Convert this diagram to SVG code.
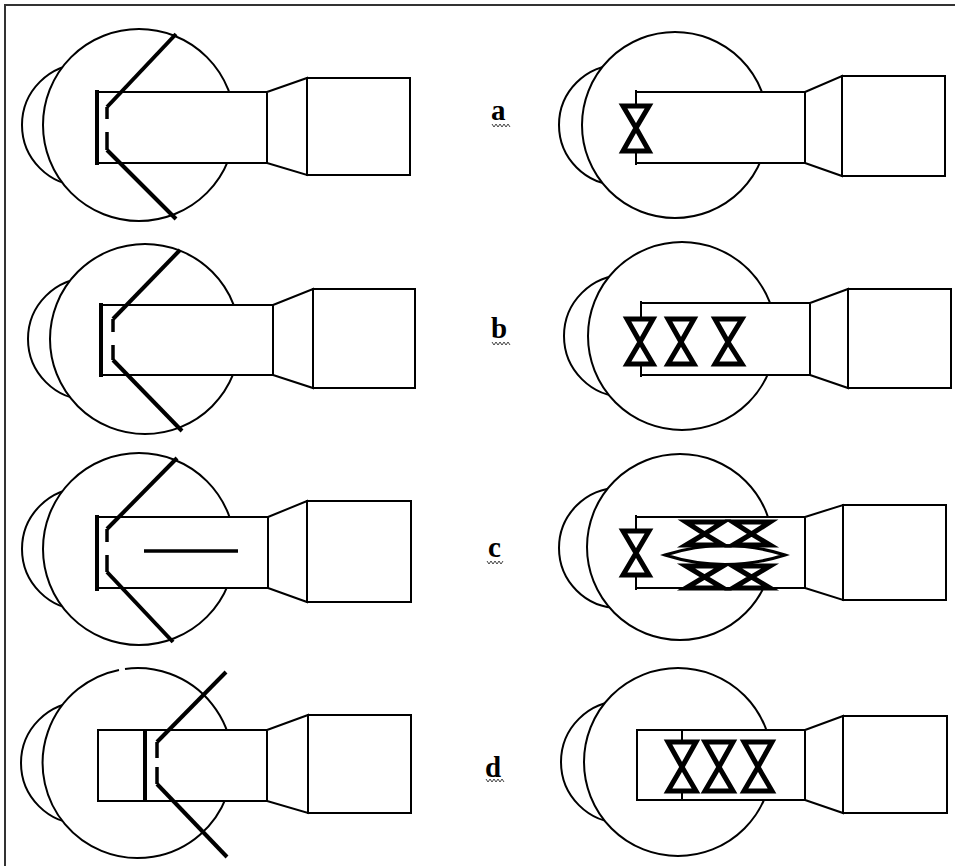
<svg xmlns="http://www.w3.org/2000/svg" width="955" height="866" viewBox="0 0 955 866">
  <defs>
    <style>
      .ln { fill: none; stroke: #000; stroke-width: 2; }
      .sh { fill: #fff; stroke: #000; stroke-width: 2; }
      .thk { fill: none; stroke: #000; stroke-width: 4; stroke-linecap: butt; }
      .dash { fill: none; stroke: #000; stroke-width: 3.5; }
      .valve { fill: #fff; stroke: #000; stroke-width: 5; stroke-linejoin: miter; stroke-miterlimit: 10; }
      .frame { fill: none; stroke: #333; stroke-width: 2; }
      .lbl { font-family: "Liberation Serif", "Times New Roman", serif; font-weight: bold; font-size: 29px; fill: #000; }
      .sq { fill: none; stroke: #444; stroke-width: 1; }
    </style>
  </defs>

  <rect width="955" height="866" fill="#fff"/>
  <path class="frame" d="M5,866 V5 H955"/>

  <!-- Row a, left -->
  <g id="a-left">
    <circle class="sh" cx="83" cy="125" r="61"/>
    <circle class="sh" cx="139" cy="125" r="96"/>
    <rect class="sh" x="97" y="92" width="170" height="71"/>
    <polygon class="sh" points="267,92 307,78 307,175 267,163"/>
    <rect class="sh" x="307" y="78" width="103" height="97"/>
    <line class="thk" x1="97" y1="90" x2="97" y2="165"/>
    <polyline class="thk" points="176,34 107,107"/>
    <line class="dash" x1="107" y1="107" x2="107" y2="119"/>
    <line class="dash" x1="107" y1="132" x2="107" y2="150"/>
    <polyline class="thk" points="107,150 176,219"/>
  </g>

  <!-- Row a, right -->
  <g id="a-right">
    <circle class="sh" cx="619" cy="125" r="60"/>
    <circle class="sh" cx="675" cy="125" r="93"/>
    <path class="sh" d="M636,92 H805 V163 H636"/>
    <polygon class="sh" points="805,92 842,76 842,176 805,163"/>
    <rect class="sh" x="842" y="76" width="103" height="100"/>
    <line class="ln" x1="636" y1="90" x2="636" y2="165" stroke-width="3"/>
    <polygon class="valve" points="623,106 649,106 636,128 649,151 623,151 636,128"/>
  </g>

  <!-- Row b, left -->
  <g id="b-left">
    <circle class="sh" cx="89" cy="339" r="61"/>
    <circle class="sh" cx="145" cy="339" r="95"/>
    <rect class="sh" x="101" y="305" width="172" height="70"/>
    <polygon class="sh" points="273,305 313,289 313,388 273,375"/>
    <rect class="sh" x="313" y="289" width="102" height="99"/>
    <line class="thk" x1="101" y1="303" x2="101" y2="377"/>
    <polyline class="thk" points="180,250 113,319"/>
    <line class="dash" x1="113" y1="319" x2="113" y2="332"/>
    <line class="dash" x1="113" y1="345" x2="113" y2="360"/>
    <polyline class="thk" points="113,360 182,431"/>
  </g>

  <!-- Row b, right -->
  <g id="b-right">
    <circle class="sh" cx="625" cy="336" r="61"/>
    <circle class="sh" cx="682" cy="336" r="94"/>
    <path class="sh" d="M641,303 H810 V375 H641"/>
    <polygon class="sh" points="810,303 848,289 848,388 810,375"/>
    <rect class="sh" x="848" y="289" width="103" height="99"/>
    <line class="ln" x1="641" y1="301" x2="641" y2="377" stroke-width="3"/>
    <polygon class="valve" points="627,319 653,319 640,342 653,364 627,364 640,342"/>
    <polygon class="valve" points="668,319 694,319 681,342 694,364 668,364 681,342"/>
    <polygon class="valve" points="715,319 742,319 728,342 742,364 715,364 728,342"/>
  </g>

  <!-- Row c, left -->
  <g id="c-left">
    <circle class="sh" cx="83" cy="549" r="61"/>
    <circle class="sh" cx="139" cy="549" r="96"/>
    <rect class="sh" x="97" y="517" width="171" height="71"/>
    <polygon class="sh" points="268,517 307,501 307,602 268,588"/>
    <rect class="sh" x="307" y="501" width="104" height="101"/>
    <line class="thk" x1="97" y1="515" x2="97" y2="591"/>
    <polyline class="thk" points="177,458 107,529"/>
    <line class="dash" x1="107" y1="529" x2="107" y2="542"/>
    <line class="dash" x1="107" y1="555" x2="107" y2="572"/>
    <polyline class="thk" points="107,572 173,642"/>
    <line x1="144" y1="551" x2="238" y2="551" stroke="#000" stroke-width="3.5"/>
  </g>

  <!-- Row c, right -->
  <g id="c-right">
    <circle class="sh" cx="619" cy="548" r="60"/>
    <circle class="sh" cx="680" cy="547" r="93"/>
    <path class="sh" d="M636,517 H805 V588 H636"/>
    <polygon class="sh" points="805,517 843,505 843,600 805,588"/>
    <rect class="sh" x="843" y="505" width="103" height="95"/>
    <line class="ln" x1="636" y1="515" x2="636" y2="590" stroke-width="3"/>
    <polygon class="valve" points="623,531 649,531 636,553 649,575 623,575 636,553"/>
    <path d="M665,555 Q725,536 785,555 Q725,574 665,555 Z" fill="#fff" stroke="#000" stroke-width="3"/>
    <polygon class="valve" points="686,522 723,522 704.5,534 723,545 686,545 704.5,534" stroke-width="6"/>
    <polygon class="valve" points="733,522 770,522 751.5,534 770,545 733,545 751.5,534" stroke-width="6"/>
    <polygon class="valve" points="686,566 723,566 704.5,577 723,588 686,588 704.5,577" stroke-width="6"/>
    <polygon class="valve" points="733,566 770,566 751.5,577 770,588 733,588 751.5,577" stroke-width="6"/>
  </g>

  <!-- Row d, left -->
  <g id="d-left">
    <circle class="sh" cx="82" cy="763" r="61"/>
    <path class="sh" d="M125,668.9 A95,95 0 1 1 119,669.9"/>
    <rect class="sh" x="98" y="730" width="169" height="71"/>
    <polygon class="sh" points="267,730 308,715 308,813 267,801"/>
    <rect class="sh" x="308" y="715" width="103" height="98"/>
    <line class="thk" x1="145" y1="730" x2="145" y2="801"/>
    <polyline class="thk" points="226,672 157,742"/>
    <line class="dash" x1="157" y1="742" x2="157" y2="758"/>
    <line class="dash" x1="157" y1="767" x2="157" y2="784"/>
    <polyline class="thk" points="157,784 227,857"/>
  </g>

  <!-- Row d, right -->
  <g id="d-right">
    <circle class="sh" cx="622" cy="762" r="61"/>
    <circle class="sh" cx="678" cy="762" r="94"/>
    <rect class="sh" x="637" y="730" width="168" height="70"/>
    <polygon class="sh" points="805,730 843,716 843,813 805,800"/>
    <rect class="sh" x="843" y="716" width="104" height="97"/>
    <line class="ln" x1="682" y1="730" x2="682" y2="800" stroke-width="3"/>
    <polygon class="valve" points="668,742 696,742 682,767 696,791 668,791 682,767"/>
    <polygon class="valve" points="705,742 733,742 719,767 733,791 705,791 719,767"/>
    <polygon class="valve" points="744,742 772,742 758,767 772,791 744,791 758,767"/>
  </g>

  <!-- Row labels -->
  <g id="labels">
    <text class="lbl" x="491" y="120">a</text>
    <polyline class="sq" points="492,124 494,127 496,124 498,127 500,124 502,127 504,124 506,127 508,124 510,127"/>
    <text class="lbl" x="491" y="338">b</text>
    <polyline class="sq" points="492,342 494,345 496,342 498,345 500,342 502,345 504,342 506,345 508,342 510,345"/>
    <text class="lbl" x="488" y="557">c</text>
    <polyline class="sq" points="487,561 489,564 491,561 493,564 495,561 497,564 499,561 501,564 503,561"/>
    <text class="lbl" x="485" y="777">d</text>
    <polyline class="sq" points="486,779 488,782 490,779 492,782 494,779 496,782 498,779 500,782 502,779 504,782"/>
  </g>
</svg>
